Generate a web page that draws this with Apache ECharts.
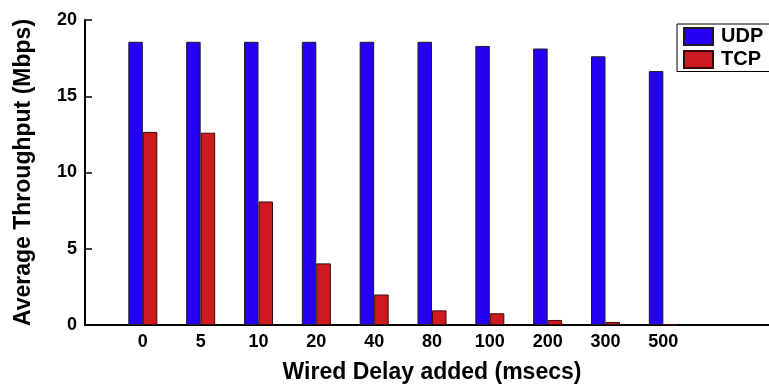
<!DOCTYPE html>
<html>
<head>
<meta charset="utf-8">
<script src="https://cdn.jsdelivr.net/npm/echarts@6/dist/echarts.min.js"></script>
<style>
  html, body { margin: 0; padding: 0; background: #fff; }
  #chart { width: 769px; height: 385px; }
</style>
</head>
<body>
<div id="chart"></div>
<script>
// Added wired delay (msecs) for each experiment
const delays = ['0', '5', '10', '20', '40', '80', '100', '200', '300', '500'];
// Average throughput in Mbps
const udpThroughput = [18.57, 18.57, 18.57, 18.57, 18.57, 18.57, 18.3, 18.13, 17.62, 16.65];
const tcpThroughput = [12.66, 12.61, 8.1, 4.04, 2.0, 0.96, 0.77, 0.33, 0.2, 0.03];
const yTicks = [0, 5, 10, 15, 20];

// One empty slot before the first delay and two after the last keep the
// groups away from the axis ends.
const axisCategories = [''].concat(delays, ['', '']);
const pad = (arr) => [null].concat(arr, [null, null]);

const font = 'Liberation Sans, Arial, Helvetica, sans-serif';

const chart = echarts.init(document.getElementById('chart'), null, { renderer: 'canvas' });
chart.setOption({
  animation: false,
  backgroundColor: '#ffffff',
  grid: { left: 85, top: 20, bottom: 60, width: 694, containLabel: false, outerBoundsMode: 'none' },
  legend: {
    orient: 'vertical',
    left: 677,
    top: 24,
    padding: [2.5, 10, 2, 6],
    itemWidth: 29,
    itemHeight: 17,
    itemGap: 3,
    icon: 'rect',
    borderColor: '#000',
    borderWidth: 1,
    backgroundColor: '#fff',
    textStyle: { fontFamily: font, fontWeight: 'bold', fontSize: 20, lineHeight: 20, color: '#000', padding: [0, 0, 0, 3] },
    data: ['UDP', 'TCP']
  },
  xAxis: {
    type: 'category',
    data: axisCategories,
    boundaryGap: false,
    name: 'Wired Delay added (msecs)',
    nameLocation: 'middle',
    nameGap: 36,
    nameTextStyle: { fontFamily: font, fontWeight: 'bold', fontSize: 23, color: '#000' },
    axisLine: { lineStyle: { color: '#000', width: 2 } },
    axisTick: { show: false },
    axisLabel: { fontFamily: font, fontWeight: 'bold', fontSize: 18, color: '#000', margin: 8, interval: 0 },
    splitLine: { show: false }
  },
  yAxis: {
    type: 'value',
    min: yTicks[0],
    max: yTicks[yTicks.length - 1],
    interval: yTicks[1] - yTicks[0],
    name: 'Average Throughput (Mbps)',
    nameLocation: 'middle',
    nameGap: 50,
    nameTextStyle: { fontFamily: font, fontWeight: 'bold', fontSize: 23, color: '#000' },
    axisLine: { show: true, lineStyle: { color: '#000', width: 2 } },
    axisTick: { show: true, inside: true, length: 7, lineStyle: { color: '#000', width: 1.5 } },
    axisLabel: { fontFamily: font, fontWeight: 'bold', fontSize: 18, color: '#000', margin: 8 },
    splitLine: { show: false }
  },
  series: [
    {
      name: 'UDP',
      type: 'bar',
      data: pad(udpThroughput),
      barWidth: 14.5,
      barGap: '0%',
      itemStyle: { color: '#2400f5', borderColor: '#1a1a2a', borderWidth: 1 }
    },
    {
      name: 'TCP',
      type: 'bar',
      data: pad(tcpThroughput),
      barWidth: 14.5,
      barGap: '0%',
      itemStyle: { color: '#cc1a1e', borderColor: '#3a0a0a', borderWidth: 1 }
    }
  ]
});
</script>
</body>
</html>
